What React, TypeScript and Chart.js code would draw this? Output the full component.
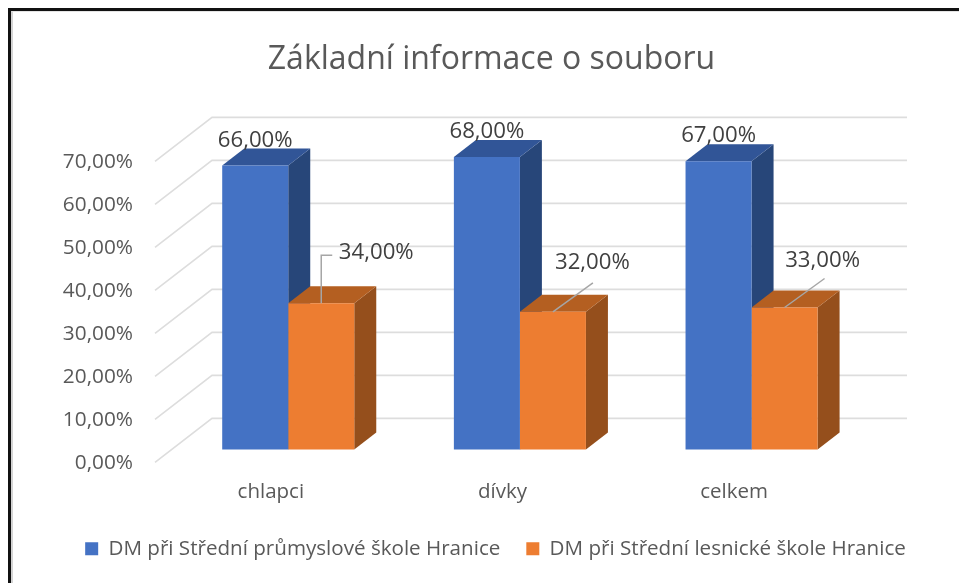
import { useEffect, useRef } from "react";
import { Chart, registerables } from "chart.js";

Chart.register(...registerables);

const categories = ["chlapci", "dívky", "celkem"];
const seriesNames = ["DM při Střední průmyslové škole Hranice", "DM při Střední lesnické škole Hranice"];
const prumyslova = [66, 68, 67];
const lesnicka = [34, 32, 33];
const yTicks = [0, 10, 20, 30, 40, 50, 60, 70];
const titleText = "Základní informace o souboru";

const FONT = '"Open Sans", sans-serif';
const fmt = (v: number) => v.toFixed(2).replace(".", ",") + "%";

// depth projection of the fake 3D look
const BAR_SHIFT = { x: 17.4, y: -13 };
const BAR_DEPTH = { x: 22, y: -17 };
const WALL = { x: 57, y: -44, right: 907 };

const faces = [
  { top: "#315597", side: "#274679" },
  { top: "#B45F21", side: "#954F1C" },
];

// label placement relative to the top-centre of the front face
const labelPlacement = [
  [{ dx: 0, dy: -25 }, { dx: 0, dy: -25 }, { dx: 0, dy: -26 }],
  [{ dx: 55, dy: -51, elbow: true }, { dx: 39.5, dy: -49 }, { dx: 38, dy: -47 }],
];

const depthPlugin = {
  id: "depth",
  afterLayout(chart: any) {
    chart.legend.left += 4;
    chart.legend.right += 4;
  },
  beforeDatasetsDraw(chart: any) {
    const { ctx } = chart;
    const y = chart.scales.y;
    ctx.save();
    ctx.strokeStyle = "#dddddd";
    yTicks.forEach((t) => {
      const py = y.getPixelForValue(t);
      ctx.lineWidth = 1.6;
      ctx.beginPath();
      ctx.moveTo(chart.chartArea.left, py);
      ctx.lineTo(chart.chartArea.left + WALL.x, py + WALL.y);
      ctx.lineTo(WALL.right, py + WALL.y);
      ctx.stroke();
    });
    ctx.restore();

    ctx.save();
    ctx.translate(BAR_SHIFT.x, BAR_SHIFT.y);
    chart.data.datasets.forEach((_: any, di: number) => {
      chart.getDatasetMeta(di).data.forEach((bar: any) => {
        const half = bar.width / 2;
        const l = bar.x - half;
        const r = bar.x + half;
        ctx.fillStyle = faces[di].side;
        ctx.beginPath();
        ctx.moveTo(r, bar.y);
        ctx.lineTo(r + BAR_DEPTH.x, bar.y + BAR_DEPTH.y);
        ctx.lineTo(r + BAR_DEPTH.x, bar.base + BAR_DEPTH.y);
        ctx.lineTo(r, bar.base);
        ctx.closePath();
        ctx.fill();
        ctx.fillStyle = faces[di].top;
        ctx.beginPath();
        ctx.moveTo(l, bar.y);
        ctx.lineTo(l + BAR_DEPTH.x, bar.y + BAR_DEPTH.y);
        ctx.lineTo(r + BAR_DEPTH.x, bar.y + BAR_DEPTH.y);
        ctx.lineTo(r, bar.y);
        ctx.closePath();
        ctx.fill();
      });
    });
    // front faces are drawn by the library inside this translation
  },
  afterDatasetsDraw(chart: any) {
    const { ctx } = chart;
    ctx.restore();
    ctx.save();
    ctx.font = `22.2px ${FONT}`;
    ctx.textAlign = "center";
    ctx.textBaseline = "middle";
    chart.data.datasets.forEach((ds: any, di: number) => {
      chart.getDatasetMeta(di).data.forEach((bar: any, i: number) => {
        const p: any = labelPlacement[di][i];
        const x = bar.x + BAR_SHIFT.x;
        const yy = bar.y + BAR_SHIFT.y;
        if (di === 1) {
          ctx.strokeStyle = "#a6a6a6";
          ctx.lineWidth = 1.5;
          ctx.beginPath();
          ctx.moveTo(x, yy);
          if (p.elbow) {
            ctx.lineTo(x, yy + p.dy + 3);
            ctx.lineTo(x + 11, yy + p.dy + 3);
          } else {
            ctx.lineTo(x + 40, yy - 29);
          }
          ctx.stroke();
        }
        ctx.fillStyle = "#404040";
        ctx.fillText(fmt(ds.data[i]), x + p.dx, yy + p.dy);
      });
    });
    ctx.restore();
  },
};

export default function App() {
  const ref = useRef<HTMLCanvasElement>(null);
  useEffect(() => {
    const chart = new Chart(ref.current as HTMLCanvasElement, {
      type: "bar",
      data: {
        labels: categories,
        datasets: [
          { label: seriesNames[0], data: prumyslova, backgroundColor: "#4472C4", clip: false as any },
          { label: seriesNames[1], data: lesnicka, backgroundColor: "#ED7D31", clip: false as any },
        ],
      },
      plugins: [depthPlugin],
      options: {
        animation: false,
        responsive: false,
        layout: { padding: { left: 24, right: 0, top: 0, bottom: 14 } },
        datasets: { bar: { categoryPercentage: 0.57, barPercentage: 1 } },
        plugins: {
          title: {
            display: true,
            text: titleText,
            color: "#595959",
            font: { family: FONT, size: 32, weight: "normal" },
            padding: { top: 41, bottom: 82 },
          },
          legend: {
            position: "bottom",
            labels: {
              boxWidth: 13,
              boxHeight: 13,
              padding: 26,
              color: "#595959",
              font: { family: FONT, size: 20.6 },
            },
          },
          tooltip: { enabled: false },
        },
        scales: {
          x: {
            grid: { display: false },
            border: { display: false },
            ticks: { color: "#595959", font: { family: FONT, size: 20.5 }, padding: 9, maxRotation: 0 },
            afterFit(s: any) { s.height = 50; },
          },
          y: {
            min: 0,
            max: 70,
            grid: { display: false },
            border: { display: false },
            afterBuildTicks(s: any) { s.ticks = yTicks.map((value) => ({ value })); },
            ticks: {
              color: "#595959",
              font: { family: FONT, size: 20.8 },
              padding: 14,
              labelOffset: 1,
              callback: (v: any) => fmt(Number(v)),
            },
            afterFit(s: any) { s.width = 131; },
          },
          yRight: {
            position: "right",
            min: 0,
            max: 70,
            grid: { display: false },
            border: { display: false },
            ticks: { display: false },
            afterFit(s: any) { s.width = 109; },
          },
        },
      } as any,
    });
    return () => chart.destroy();
  }, []);
  return (
    <div style={{ position: "fixed", left: 0, top: 0, width: 959, height: 583, background: "#fff", overflow: "hidden" }}>
      <canvas ref={ref} width={959} height={583} style={{ display: "block", position: "absolute", left: 0, top: 0 }} />
      <div style={{ position: "absolute", left: 8, top: 8, right: 0, bottom: 0, borderLeft: "3px solid #111", borderTop: "3px solid #111" }} />
      <div style={{ position: "absolute", left: 11, top: 11, right: 0, bottom: 0, borderLeft: "2px solid #d4d4d4", borderTop: "1px solid #e4e4e4" }} />
    </div>
  );
}
